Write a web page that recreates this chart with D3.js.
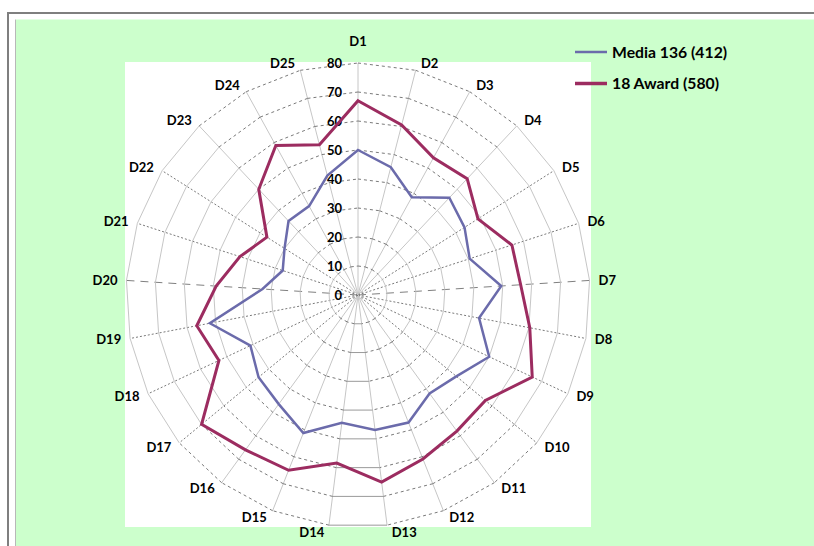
<!DOCTYPE html>
<html>
<head>
<meta charset="utf-8">
<script src="https://cdn.jsdelivr.net/npm/d3@7"></script>
<style>
  body { margin: 0; background: #ffffff; }
  svg text { font-family: Lato, "Open Sans", "DejaVu Sans", sans-serif; font-weight: bold; fill: #000; }
</style>
</head>
<body>
<svg id="chart" width="814" height="546"></svg>
<script>
// Radar axes
const categories = ["D1","D2","D3","D4","D5","D6","D7","D8","D9","D10","D11","D12","D13",
                    "D14","D15","D16","D17","D18","D19","D20","D21","D22","D23","D24","D25"];
// Series values, one per axis
const mediaValues = [50, 45.5, 38.5, 46, 43.5, 40.5, 49.5, 42.5, 50, 44, 42, 47.3, 46.9,
                     44.4, 51.2, 46.5, 44.5, 41, 52, 33, 27.3, 30, 35, 35, 42.5];
const awardValues = [67, 60.5, 54, 55, 49, 55.8, 56.2, 60.3, 66.4, 57, 58, 60.8, 65,
                     58.4, 65, 66, 70, 53, 56.6, 49, 42.8, 37.2, 50, 58.8, 53.5];
const seriesNames = ["Media 136 (412)", "18 Award (580)"];
const seriesColors = ["#6b6bab", "#9c2c60"];
const radialTicks = [0, 10, 20, 30, 40, 50, 60, 70, 80];

const svg = d3.select("#chart");
const W = 814, H = 546;

// Frame and backgrounds
svg.append("rect").attr("x", 0).attr("y", 0).attr("width", W).attr("height", H).attr("fill", "#ffffff");
svg.append("rect").attr("x", 8).attr("y", 13).attr("width", W + 20).attr("height", H + 20)
  .attr("fill", "none").attr("stroke", "#7f7f7f").attr("stroke-width", 2);
svg.append("rect").attr("x", 16).attr("y", 19.5).attr("width", W).attr("height", H)
  .attr("fill", "#ccffcc");
svg.append("line").attr("x1", 15.5).attr("x2", 15.5).attr("y1", 19.5).attr("y2", H)
  .attr("stroke", "#b8b8b8").attr("stroke-width", 1);
svg.append("rect").attr("x", 125).attr("y", 62).attr("width", 466).attr("height", 465)
  .attr("fill", "#ffffff");

const cx = 358, cy = 295;
const rScale = d3.scaleLinear().domain([0, 80]).range([0, 232]);
const aScale = d3.scaleLinear().domain([0, categories.length]).range([0, 2 * Math.PI]);

const g = svg.append("g").attr("transform", `translate(${cx},${cy})`);
const grid = g.append("g");

// Style of one grid segment depends on its direction
function segStyle(p, q, kind) {
  const dx = Math.abs(q[0] - p[0]), dy = Math.abs(q[1] - p[1]);
  if (dy < 0.01 * dx) return { stroke: "#9a9a9a", dash: null };
  if (dx > dy) {
    if (kind === "spoke" && dy < 0.1 * dx) return { stroke: "#808080", dash: "8,6" };
    return { stroke: "#7a7a7a", dash: kind === "spoke" ? "2,2" : "3,3" };
  }
  return { stroke: "#c6c6c6", dash: null };
}

const gridSegs = [];
categories.forEach((c, i) => {
  const p = [0, 0], q = d3.pointRadial(aScale(i), rScale(80));
  gridSegs.push({ p, q, kind: "spoke" });
});
radialTicks.slice(1).forEach(v => {
  categories.forEach((c, i) => {
    const p = d3.pointRadial(aScale(i), rScale(v));
    const q = d3.pointRadial(aScale(i + 1), rScale(v));
    gridSegs.push({ p, q, kind: "ring" });
  });
});
gridSegs.forEach(s => {
  const st = segStyle(s.p, s.q, s.kind);
  grid.append("line")
    .attr("x1", s.p[0]).attr("y1", s.p[1]).attr("x2", s.q[0]).attr("y2", s.q[1])
    .attr("stroke", st.stroke).attr("stroke-width", 1)
    .attr("stroke-dasharray", st.dash);
});

// Value axis labels along D1
g.append("g").selectAll("text").data(radialTicks).join("text")
  .attr("x", -16).attr("y", d => -rScale(d)).attr("dy", "0.36em")
  .attr("text-anchor", "end").attr("font-size", 13).text(d => d);

// Category labels around the rim
g.append("g").selectAll("text").data(categories).join("text")
  .attr("font-size", 13)
  .each(function (d, i) {
    const a = aScale(i), s = Math.sin(a), c = Math.cos(a);
    const [px, py] = d3.pointRadial(a, rScale(80));
    let x = px + Math.sign(Math.round(s * 100)) * (4 + 5 * Math.abs(s));
    let y = py - 7 * c;
    if (i === 0) y -= 15;
    const anchor = Math.abs(s) < 0.01 ? "middle" : (s > 0 ? "start" : "end");
    d3.select(this).attr("x", x).attr("y", y).attr("dy", "0.36em")
      .attr("text-anchor", anchor).text(d);
  });

// Series polygons
const radial = d3.lineRadial()
  .angle((d, i) => aScale(i))
  .radius(d => rScale(d))
  .curve(d3.curveLinearClosed);
const seriesData = [mediaValues, awardValues];
const widths = [2.5, 3];
g.append("g").selectAll("path").data(seriesData).join("path")
  .attr("d", d => radial(d))
  .attr("fill", "none")
  .attr("stroke", (d, i) => seriesColors[i])
  .attr("stroke-width", (d, i) => widths[i])
  .attr("stroke-linejoin", "miter");

// Legend
const legend = svg.append("g");
seriesNames.forEach((name, i) => {
  const y = 52 + i * 31.5;
  legend.append("line").attr("x1", 575).attr("x2", 607).attr("y1", y).attr("y2", y)
    .attr("stroke", seriesColors[i]).attr("stroke-width", i === 0 ? 2.5 : 3.5);
  legend.append("text").attr("x", 612).attr("y", y).attr("dy", "0.36em")
    .attr("font-size", 15.75).text(name);
});
</script>
</body>
</html>
